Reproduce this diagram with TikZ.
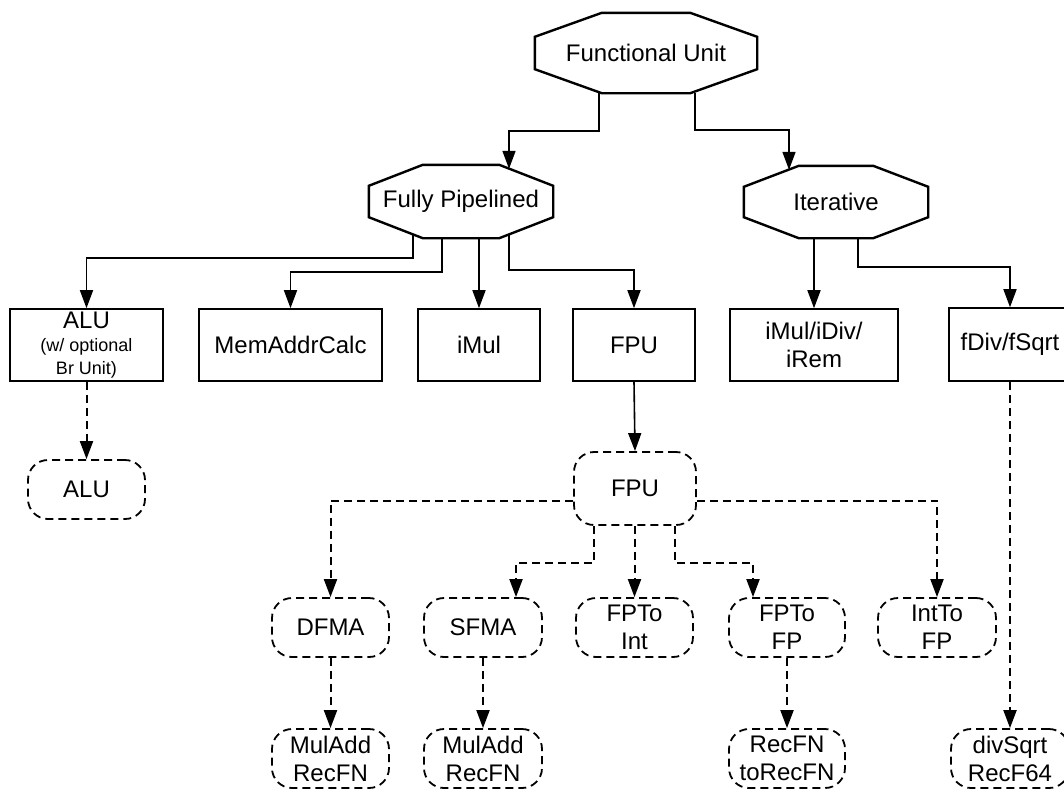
\documentclass[tikz,border=0pt]{standalone}
\usepackage{fontspec}
\setmainfont{Liberation Sans}
\usetikzlibrary{calc,arrows.meta}
\tikzset{
  every node/.style={font=\fontsize{24}{28}\selectfont, align=center, inner sep=0pt},
  octa/.style={draw=none},
  box/.style={draw, line width=1.6pt},
  rbox/.style={draw, line width=1.8pt, dash pattern=on 8pt off 5pt, rounded corners=20pt},
  arr/.style={line width=1.6pt, -{Triangle[length=18pt,width=13pt]}},
  darr/.style={arr, line width=2pt, dash pattern=on 8pt off 5pt},
  octline/.style={line width=2.4pt, line join=miter},
}
\newcommand\octdraw[3]{\draw[octline] ($(#1.north west)+(#2,0)$) -- ($(#1.north east)+(-#2,0)$) -- ($(#1.north east)+(0,#3)$) -- ($(#1.south east)+(0,-#3)$) -- ($(#1.south east)+(-#2,0)$) -- ($(#1.south west)+(#2,0)$) -- ($(#1.south west)+(0,-#3)$) -- ($(#1.north west)+(0,#3)$) -- cycle;}
\begin{document}
\begin{tikzpicture}[x=1pt,y=-1pt]
\clip (0,0) rectangle (1064,788);
% octagons
\node[octa, minimum width=222pt, minimum height=80pt] (top) at (646,53) {Functional Unit};
\node[octa, minimum width=184pt, minimum height=73pt] (fp) at (461,201.5) {Fully Pipelined};
\node[octa, minimum width=184pt, minimum height=72pt] (it) at (836,202) {Iterative};
\octdraw{top}{67}{24}
\octdraw{fp}{54}{21}
\octdraw{it}{55}{21}
% solid boxes
\node[box, minimum width=153pt, minimum height=72pt, font=\fontsize{18}{23}\selectfont] (alu) at (86.5,345) {{\fontsize{24}{28}\selectfont ALU}\\(w/ optional\\Br Unit)};
\node[box, minimum width=183pt, minimum height=72pt] (mem) at (290.5,345) {MemAddrCalc};
\node[box, minimum width=122pt, minimum height=72pt] (imul) at (479,345) {iMul};
\node[box, minimum width=122pt, minimum height=72pt] (fpu) at (634,345) {FPU};
\node[box, minimum width=168pt, minimum height=72pt] (idiv) at (814,345) {iMul/iDiv/\\iRem};
\node[box, minimum width=122pt, minimum height=73pt] (fdiv) at (1010,344.5) {fDiv/fSqrt};
% dashed rounded boxes
\node[rbox, minimum width=117pt, minimum height=59pt] (alu2) at (86.5,489.5) {ALU};
\node[rbox, minimum width=122pt, minimum height=73pt] (fpu2) at (635,488.5) {FPU};
\node[rbox, minimum width=117pt, minimum height=59pt] (dfma) at (330.5,627.5) {DFMA};
\node[rbox, minimum width=118pt, minimum height=59pt] (sfma) at (483,627.5) {SFMA};
\node[rbox, minimum width=117pt, minimum height=59pt] (fpint) at (634.5,627.5) {FPTo\\Int};
\node[rbox, minimum width=116pt, minimum height=59pt] (fpfp) at (787,627.5) {FPTo\\FP};
\node[rbox, minimum width=118pt, minimum height=59pt] (intfp) at (937,627.5) {IntTo\\FP};
\node[rbox, minimum width=117pt, minimum height=59pt] (mul1) at (330.5,758.5) {MulAdd\\RecFN};
\node[rbox, minimum width=118pt, minimum height=59pt] (mul2) at (483,758.5) {MulAdd\\RecFN};
\node[rbox, minimum width=116pt, minimum height=59pt] (rec) at (787,758.5) {RecFN\\toRecFN};
\node[rbox, minimum width=118pt, minimum height=59pt] (divs) at (1010,758.5) {divSqrt\\RecF64};
% connectors from top
\draw[arr] ($(top.south)+(-47,0)$) -- ++(0,38) -| ($(fp.north)+(48,4)$);
\draw[arr] ($(top.south)+(49,0)$) -- ++(0,37) -| ($(it.north)+(-47,4)$);
% from fully pipelined
\draw[arr] ($(fp.south)+(-48,-3)$) -- ++(0,23) -| (alu.north);
\draw[arr] ($(fp.south)+(-19,0)$) -- ++(0,34) -| (mem.north);
\draw[arr] (imul.north |- fp.south) -- (imul.north);
\draw[arr] ($(fp.south)+(48,-3)$) -- ++(0,35) -| (fpu.north);
% from iterative
\draw[arr] (idiv.north |- it.south) -- (idiv.north);
\draw[arr] ($(it.south)+(22,0)$) -- ++(0,29) -| (fdiv.north);
% down
\draw[arr] (fpu.south) -- (fpu2.north);
\draw[darr] (alu.south) -- (alu2.north);
\draw[darr] (fdiv.south) -- (divs.north);
% from fpu2
\draw[darr] ($(fpu2.west)+(0,12)$) -| (dfma.north);
\draw[darr] ($(fpu2.east)+(0,12)$) -| (intfp.north);
\draw[darr] ($(fpu2.south)+(-41,0)$) -- ++(0,37) -| ($(sfma.north)+(33,0)$);
\draw[darr] (fpint.north |- fpu2.south) -- (fpint.north);
\draw[darr] ($(fpu2.south)+(40,0)$) -- ++(0,37) -| ($(fpfp.north)+(-34,0)$);
% to bottom row
\draw[darr] (dfma.south) -- (mul1.north);
\draw[darr] (sfma.south) -- (mul2.north);
\draw[darr] (fpfp.south) -- (rec.north);
\end{tikzpicture}
\end{document}
